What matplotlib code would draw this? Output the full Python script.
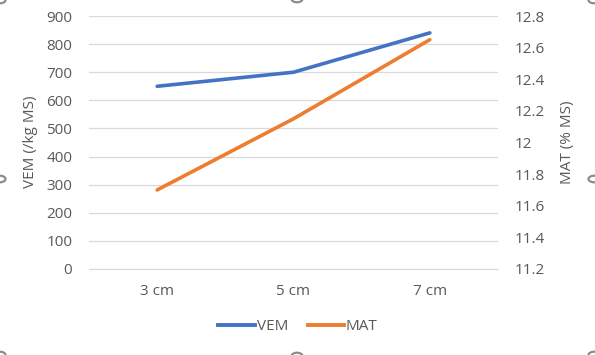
import matplotlib
matplotlib.use("Agg")
import matplotlib.pyplot as plt
from matplotlib.patches import Circle
from matplotlib.lines import Line2D

categories = ["3 cm", "5 cm", "7 cm"]
vem = [650, 700, 840]
mat = [11.70, 12.15, 12.65]
left_ticks = [0, 100, 200, 300, 400, 500, 600, 700, 800, 900]
right_ticks = [11.2, 11.4, 11.6, 11.8, 12.0, 12.2, 12.4, 12.6, 12.8]
right_labels = ["11.2", "11.4", "11.6", "11.8", "12", "12.2", "12.4", "12.6", "12.8"]

W, H = 595, 355
plt.rcParams['font.family'] = ['Open Sans', 'DejaVu Sans']
txt = '#595959'
blue = '#4472C4'
orange = '#ED7D31'
fs = 11

fig = plt.figure(figsize=(W/100, H/100), dpi=100)
ax = fig.add_axes([89/W, 1-269/H, (498-89)/W, (269-16)/H])
ax2 = ax.twinx()

x = list(range(len(categories)))
ax.plot(x, vem, color=blue, lw=2.6, solid_capstyle='round', zorder=3)
ax2.plot(x, mat, color=orange, lw=2.6, solid_capstyle='round', zorder=3)

ax.set_xlim(-0.5, 2.5)
ax.set_ylim(0, 900)
ax2.set_ylim(11.2, 12.8)
ax.set_yticks(left_ticks)
ax.set_yticklabels([str(t) for t in left_ticks])
ax2.set_yticks(right_ticks)
ax2.set_yticklabels(right_labels)
ax.set_xticks(x)
ax.set_xticklabels(categories)

ax.grid(axis='y', color='#d9d9d9', lw=0.9)
ax.set_axisbelow(True)
for a in (ax, ax2):
    for s in a.spines.values():
        s.set_visible(False)
    a.tick_params(length=0, colors=txt, labelsize=fs)
ax.spines['bottom'].set_visible(True)
ax.spines['bottom'].set_color('#d9d9d9')
ax.tick_params(axis='y', pad=12)
ax2.tick_params(axis='y', pad=12)
ax.tick_params(axis='x', pad=11)

fig.text(30/W, 1-142/H, "VEM (/kg MS)", rotation=90, ha='center', va='center', color=txt, fontsize=fs)
fig.text(567/W, 1-142/H, "MAT (% MS)", rotation=90, ha='center', va='center', color=txt, fontsize=fs)

handles = [Line2D([], [], color=blue, lw=2.8), Line2D([], [], color=orange, lw=2.8)]
fig.legend(handles, ["VEM", "MAT"], loc='center', bbox_to_anchor=(298/W, 1-327/H),
           ncol=2, frameon=False, fontsize=fs, labelcolor=txt, handlelength=2.4,
           handletextpad=0.1, columnspacing=1.3)

for (cx, cy) in [(0, 0), (297, -1), (594, 0), (0, 179), (594, 179), (297, 356), (0, 355), (594, 355)]:
    c = Circle((cx/W, 1-cy/H), 5.5/W, transform=fig.transFigure, fill=False,
               edgecolor='#8c8c8c', lw=1.6, clip_on=False)
    fig.patches.append(c)

fig.savefig("out.png", dpi=100)
